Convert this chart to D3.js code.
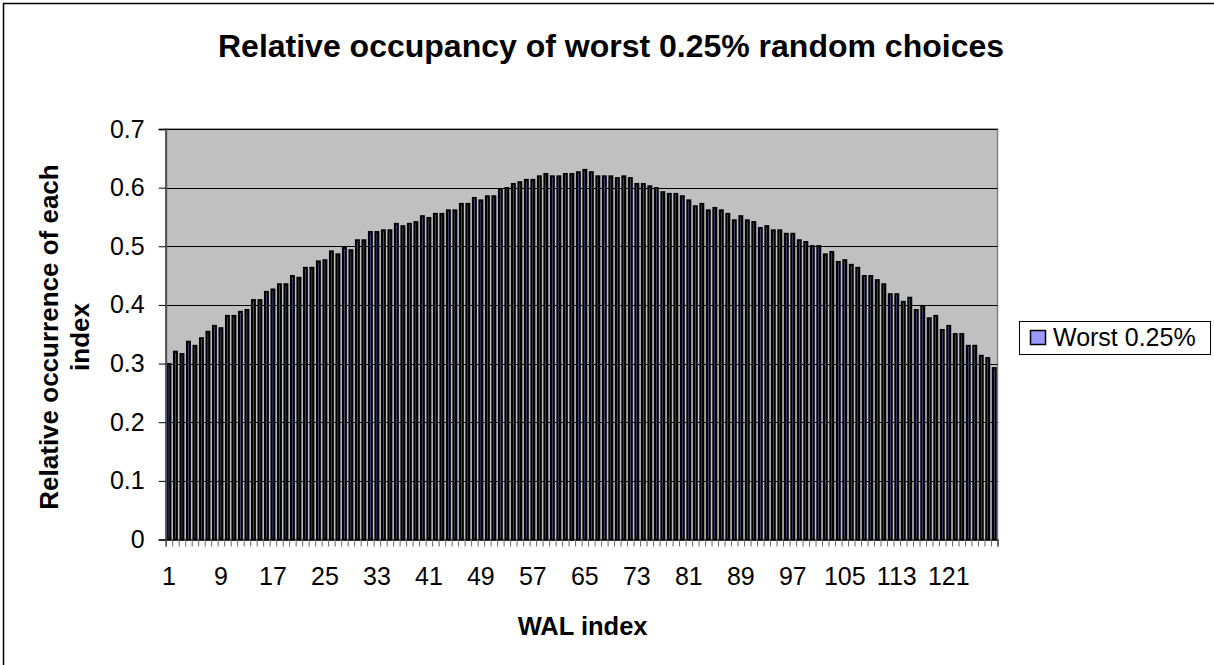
<!DOCTYPE html>
<html>
<head>
<meta charset="utf-8">
<script src="https://cdn.jsdelivr.net/npm/d3@7"></script>
<style>
  body { margin: 0; background: #fff; }
  svg { font-family: "Liberation Sans", Arial, sans-serif; }
</style>
</head>
<body>
<svg id="chart" width="1214" height="665"></svg>
<script>
// WAL index 1..128
const walIndex = d3.range(1, 129);

// relative occurrence of each index
const worst = [
  0.301, 0.322, 0.318, 0.339, 0.332, 0.345, 0.356, 0.366, 0.362, 0.383,
  0.383, 0.390, 0.393, 0.410, 0.410, 0.424, 0.428, 0.437, 0.437, 0.451,
  0.448, 0.465, 0.465, 0.476, 0.478, 0.493, 0.488, 0.499, 0.495, 0.512,
  0.512, 0.526, 0.526, 0.529, 0.529, 0.540, 0.536, 0.540, 0.543, 0.553,
  0.550, 0.557, 0.557, 0.563, 0.563, 0.574, 0.574, 0.584, 0.580, 0.587,
  0.587, 0.598, 0.601, 0.608, 0.611, 0.615, 0.615, 0.621, 0.625, 0.621,
  0.621, 0.625, 0.625, 0.628, 0.632, 0.628, 0.621, 0.621, 0.621, 0.618,
  0.621, 0.618, 0.608, 0.608, 0.604, 0.601, 0.594, 0.591, 0.591, 0.587,
  0.580, 0.570, 0.574, 0.563, 0.567, 0.563, 0.557, 0.546, 0.553, 0.546,
  0.543, 0.533, 0.536, 0.529, 0.529, 0.523, 0.523, 0.512, 0.509, 0.502,
  0.502, 0.488, 0.492, 0.475, 0.478, 0.470, 0.465, 0.451, 0.451, 0.444,
  0.437, 0.420, 0.420, 0.407, 0.414, 0.393, 0.400, 0.379, 0.383, 0.359,
  0.366, 0.352, 0.352, 0.332, 0.332, 0.315, 0.311, 0.294
];

const yTicks = [0, 0.1, 0.2, 0.3, 0.4, 0.5, 0.6, 0.7];
const xLabels = walIndex.filter(d => (d - 1) % 8 === 0);
const seriesName = 'Worst 0.25%';

const svg = d3.select('#chart');
const plotLeft = 165.7, plotRight = 997.5, plotTop = 129, plotBottom = 539.5;
const barColor = '#9999ff';

let x = d3.scaleBand()
  .domain(walIndex)
  .range([plotLeft, plotRight])
  .paddingInner(0.24)
  .paddingOuter(0.12);

let y = d3.scaleLinear().domain([0, 0.7]).range([plotBottom, plotTop]);

// boundaries between categories, used for the tick marks
let edge = d3.scaleLinear().domain([0.5, 128.5]).range([plotLeft, plotRight]);

// plot area
svg.append('rect')
  .attr('x', plotLeft).attr('y', plotTop)
  .attr('width', plotRight - plotLeft).attr('height', plotBottom - plotTop)
  .attr('fill', '#c0c0c0')
  .attr('stroke', '#808080')
  .attr('stroke-width', 1.5);

// gridlines
svg.append('g')
  .selectAll('line')
  .data(yTicks.filter(d => d > 0))
  .join('line')
  .attr('x1', plotLeft).attr('x2', plotRight)
  .attr('y1', d => Math.round(y(d)) + 0.5)
  .attr('y2', d => Math.round(y(d)) + 0.5)
  .attr('stroke', '#000')
  .attr('stroke-width', 1);

// bars (thin bars: the black border eats most of the fill)
let sw = 2.3;
svg.append('g')
  .selectAll('rect')
  .data(worst)
  .join('rect')
  .attr('x', (d, i) => x(walIndex[i]) + sw / 2)
  .attr('y', d => y(d) + sw / 2)
  .attr('width', x.bandwidth() - sw)
  .attr('height', d => plotBottom - y(d) - sw / 2)
  .attr('fill', barColor)
  .attr('stroke', '#000')
  .attr('stroke-width', sw);

// y axis
let yAxis = d3.axisLeft(y)
  .tickValues(yTicks)
  .tickFormat(d => d === 0 ? '0' : d3.format('.1f')(d))
  .tickSize(7)
  .tickPadding(14);

let gy = svg.append('g')
  .attr('transform', 'translate(' + plotLeft + ',0)')
  .call(yAxis);
gy.select('.domain').attr('stroke', '#555').attr('stroke-width', 2);
gy.selectAll('.tick line').attr('stroke', '#000');
gy.selectAll('.tick text')
  .attr('font-size', 25)
  .attr('font-family', '"Liberation Sans", Arial, sans-serif')
  .attr('fill', '#000');

// x axis: tick marks between categories
let xTickAxis = d3.axisBottom(edge)
  .tickValues(d3.range(0.5, 129, 1))
  .tickFormat('')
  .tickSize(7);

let gx = svg.append('g')
  .attr('transform', 'translate(0,' + plotBottom + ')')
  .call(xTickAxis);
gx.select('.domain').attr('stroke', '#000').attr('stroke-width', 1.2);
gx.selectAll('.tick line').attr('stroke', '#666');

// x axis labels
let xLabelAxis = d3.axisBottom(x)
  .tickValues(xLabels)
  .tickSize(0)
  .tickPadding(28);

let gxl = svg.append('g')
  .attr('transform', 'translate(0,' + plotBottom + ')')
  .call(xLabelAxis);
gxl.select('.domain').remove();
gxl.selectAll('.tick text')
  .attr('font-size', 25)
  .attr('font-family', '"Liberation Sans", Arial, sans-serif')
  .attr('fill', '#000');

// title
svg.append('text')
  .attr('x', 611).attr('y', 57)
  .attr('text-anchor', 'middle')
  .attr('font-size', 32)
  .attr('font-weight', 'bold')
  .text('Relative occupancy of worst 0.25% random choices');

// x axis title
svg.append('text')
  .attr('x', (plotLeft + plotRight) / 2 + 1).attr('y', 635)
  .attr('text-anchor', 'middle')
  .attr('font-size', 25.5)
  .attr('font-weight', 'bold')
  .text('WAL index');

// y axis title, two lines
let yTitle = svg.append('text')
  .attr('transform', 'translate(58,337) rotate(-90)')
  .attr('text-anchor', 'middle')
  .attr('font-size', 26)
  .attr('font-weight', 'bold');
yTitle.append('tspan').attr('x', 0).attr('y', 0).text('Relative occurrence of each');
yTitle.append('tspan').attr('x', 0).attr('y', 31).text('index');

// legend
let legend = svg.append('g');
legend.append('rect')
  .attr('x', 1019.5).attr('y', 321.5)
  .attr('width', 191).attr('height', 33)
  .attr('fill', '#fff')
  .attr('stroke', '#000')
  .attr('stroke-width', 1);
legend.append('rect')
  .attr('x', 1030.5).attr('y', 330.5)
  .attr('width', 15).attr('height', 14)
  .attr('fill', barColor)
  .attr('stroke', '#000')
  .attr('stroke-width', 1.5);
legend.append('text')
  .attr('x', 1053).attr('y', 346)
  .attr('font-size', 25)
  .text(seriesName);

// chart border
svg.append('rect')
  .attr('x', 3.5).attr('y', 3.5)
  .attr('width', 1214).attr('height', 665)
  .attr('fill', 'none')
  .attr('stroke', '#000')
  .attr('stroke-width', 1.5);
</script>
</body>
</html>
